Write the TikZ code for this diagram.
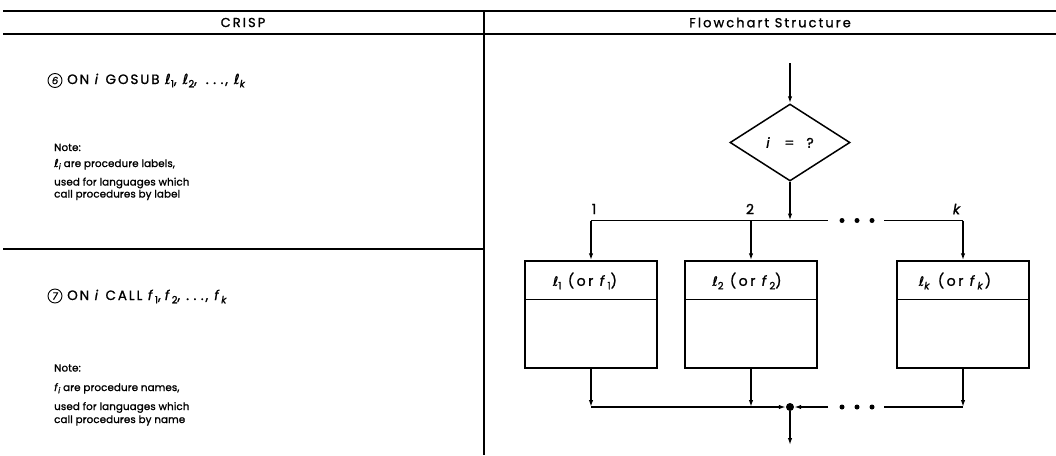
\documentclass[tikz,border=0pt]{standalone}
\usepackage{fontspec}
\setmainfont{Poppins}[LetterSpace=8, FakeBold=1.2]
\newfontfamily\hdrfont{Poppins}[LetterSpace=16, FakeBold=1.2]
\newfontfamily\stmtfont{Poppins}[LetterSpace=14, FakeBold=1.2]
\newfontfamily\notefont{Poppins}[LetterSpace=1, FakeBold=1.2]
\newfontfamily\flowfont{Poppins}[LetterSpace=18, FakeBold=1.2]
\newfontfamily\ellfont{DejaVu Sans}[FakeBold=0.6]
\usetikzlibrary{shapes.geometric,arrows.meta,calc}
\newcommand\lsub[1]{\raisebox{-0.45ex}{\fontsize{10}{10}\selectfont #1}}
\newcommand\nsub[1]{\raisebox{-0.4ex}{\fontsize{8}{8}\selectfont #1}}
\newcommand\ellv{{\ellfont\itshape\fontsize{14}{14}\selectfont ℓ}}
\newcommand\ells{{\ellfont\itshape\fontsize{13}{13}\selectfont ℓ}}
\newcommand\elln{{\ellfont\itshape\fontsize{11}{11}\selectfont ℓ}}
\newcommand\tdots{.\kern4.5pt.\kern4.5pt.}
\begin{document}
\begin{tikzpicture}[x=1pt,y=-1pt,
  rule/.style={line width=1.4pt},
  conn/.style={line width=1.6pt},
  arr/.style={conn,-{Latex[length=7pt,width=4.5pt]}},
  hdr/.style={font=\hdrfont\fontsize{13}{15}\selectfont, inner sep=0pt},
  stmt/.style={font=\stmtfont\fontsize{13.5}{15}\selectfont, anchor=base west, inner sep=0pt},
  note/.style={font=\notefont\fontsize{10.3}{12}\selectfont, anchor=base west, inner sep=0pt},
  num/.style={circle, draw, line width=0.9pt, minimum size=14pt, inner sep=0pt, font=\fontsize{10}{10}\selectfont\itshape},
  proc/.style={draw, line width=1.5pt, minimum width=132pt, minimum height=107pt, inner sep=0pt},
  plabel/.style={font=\flowfont\fontsize{14}{16}\selectfont, inner sep=0pt},
  dec/.style={draw, shape=diamond, line width=1.5pt, minimum width=120pt, minimum height=77pt, inner sep=0pt, font=\flowfont\fontsize{14}{16}\selectfont},
  dotm/.style={circle, fill, inner sep=0pt, minimum size=5pt}
]
\useasboundingbox (0,0) rectangle (1056,455);
% table rules
\draw[rule] (3,11) -- (1056,11);
\draw[rule] (3,34) -- (1056,34);
\draw[rule] (3,249) -- (484,249);
\draw[rule] (484,11) -- (484,455);
% headers
\node[hdr] (h1) at (243,22.5) {CRISP};
\node[hdr] (h2) at (770,22.5) {Flowchart Structure};
% statement 6
\node[num] (c6) at (55,80.5) {6};
\node[stmt] (s6) at (67,84) {ON \textit{i} GOSUB \ellv\lsub{1},\kern6pt\ellv\lsub{2},\kern9pt\tdots,\kern6pt\ellv\lsub{\textit{k}}};
\node[note] (n6a) at (54,151) {Note:};
\node[note] (n6b) at (54,167) {\elln\nsub{\textit{i}} are procedure labels,};
\node[note] (n6c) at (54,185.5) {used for languages which};
\node[note] (n6d) at (54,197.5) {call procedures by label};
% statement 7
\node[num] (c7) at (55,296) {7};
\node[stmt] (s7) at (67,300) {ON \textit{i} CALL \textit{f}\lsub{1},\kern4pt\textit{f}\lsub{2},\kern6pt\tdots,\kern6pt\textit{f}\lsub{\textit{k}}};
\node[note] (n7a) at (54,371.5) {Note:};
\node[note] (n7b) at (54,391) {\textit{f}\nsub{\textit{i}} are procedure names,};
\node[note] (n7c) at (54,410) {used for languages which};
\node[note] (n7d) at (54,423) {call procedures by name};
% flowchart
\coordinate (in) at (790,63);
\node[dec] (d) at (790,142.5) {\textit{i}\kern12pt=\kern12pt?};
\coordinate (j1) at (790,220.5);
\coordinate (t1) at (591,220.5);
\coordinate (t2) at (751,220.5);
\coordinate (tk) at (963,220.5);
\coordinate (ta) at (828,220.5);
\coordinate (tb) at (884,220.5);
\node[proc] (b1) at (591,314.5) {};
\node[proc] (b2) at (751,314.5) {};
\node[proc] (bk) at (963,314.5) {};
\foreach \b in {b1,b2,bk}
  \draw[rule] ($(\b.north west)+(0,39)$) -- ($(\b.north east)+(0,39)$);
\node[plabel] (p1) at (585,281) {\ells\lsub{1} (or \textit{f}\lsub{1})};
\node[plabel] (p2) at (747,281) {\ells\lsub{2} (or \textit{f}\lsub{2})};
\node[plabel] (pk) at (955,281) {\ells\lsub{\textit{k}} (or \textit{f}\lsub{\textit{k}})};
\node[plabel] (l1) at (594,209) {1};
\node[plabel] (l2) at (750,209) {2};
\node[plabel] (lk) at (958,209) {\textit{k}};
\draw[arr] (in) -- (d.north);
\draw[arr] (d.south) -- (j1);
\draw[conn] (t1) -- (ta);
\draw[conn] (tb) -- (tk);
\node[dotm] (e1) at (842,220.5) {};
\node[dotm] (e2) at (857,220.5) {};
\node[dotm] (e3) at (872,220.5) {};
\draw[arr] (t1) -- (b1.north);
\draw[arr] (t2) -- (b2.north);
\draw[arr] (tk) -- (bk.north);
% bottom
\coordinate (u1) at (591,407);
\coordinate (u2) at (751,407);
\coordinate (uk) at (963,407);
\coordinate (ua) at (828,407);
\coordinate (ub) at (884,407);
\coordinate (out) at (790,445);
\node[dotm, minimum size=8pt] (j2) at (790,407) {};
\draw[arr] (b1.south) -- (u1);
\draw[arr] (b2.south) -- (u2);
\draw[arr] (bk.south) -- (uk);
\draw[arr] (u1) -- (j2.west);
\draw[arr] (ua) -- (j2.east);
\draw[conn] (uk) -- (ub);
\node[dotm] (f1) at (842,407) {};
\node[dotm] (f2) at (857,407) {};
\node[dotm] (f3) at (872,407) {};
\draw[arr] (j2.south) -- (out);
\end{tikzpicture}
\end{document}
